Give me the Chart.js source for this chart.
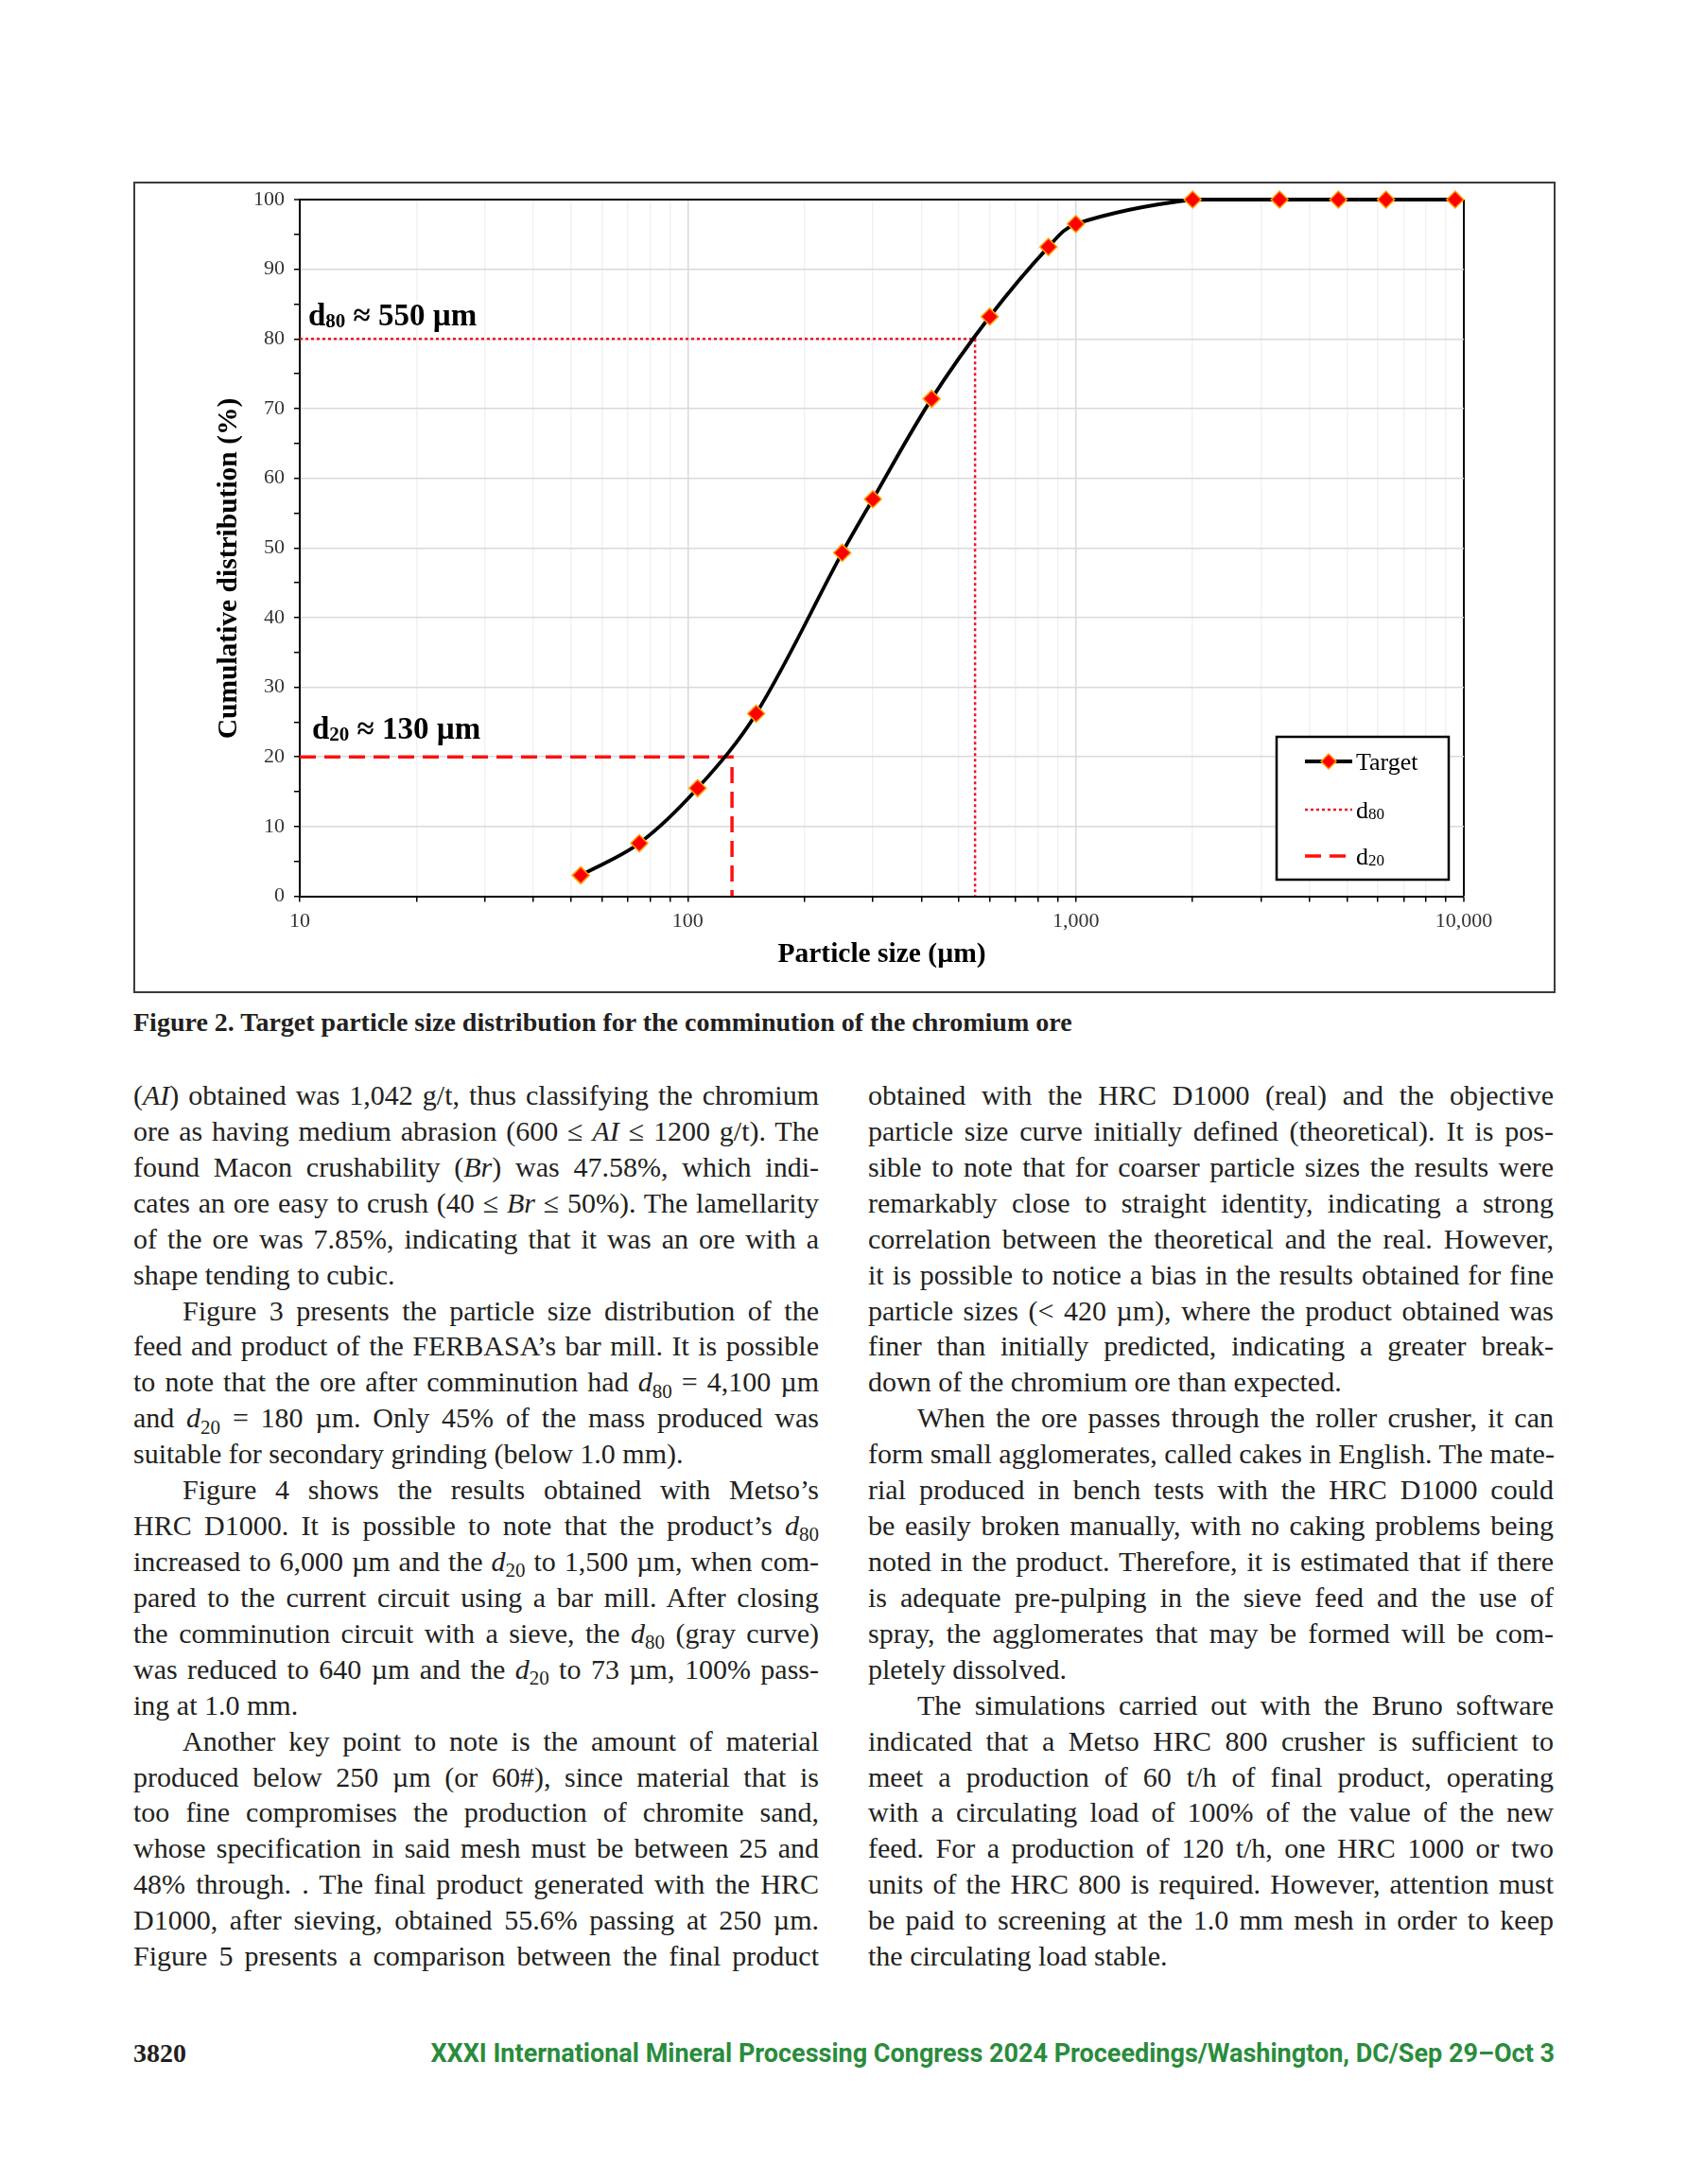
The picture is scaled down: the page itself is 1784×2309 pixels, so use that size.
<!DOCTYPE html>
<html>
<head>
<meta charset="utf-8">
<script src="https://cdn.jsdelivr.net/npm/chart.js@4.4.1/dist/chart.umd.min.js"></script>
<style>
html,body{margin:0;padding:0;background:#fff;}
body{width:1784px;height:2309px;position:relative;overflow:hidden;font-family:'Liberation Serif',serif;color:#231f20;}
#frame{position:absolute;left:141px;top:192px;width:1504px;height:858px;border:2px solid #3c3c3c;box-sizing:border-box;}
#grafico{position:absolute;left:0;top:0;}
.cap{position:absolute;left:141px;top:1066px;font:bold 28px/30px 'Liberation Serif',serif;white-space:nowrap;}
.col{position:absolute;top:1139px;width:725px;font-size:30px;line-height:37.93px;}
.col div{height:37.93px;white-space:nowrap;text-align:justify;text-align-last:justify;}
.col div.e{text-align-last:left;}
.col div.i{text-indent:52px;}
sub{font-size:0.7em;vertical-align:baseline;position:relative;top:0.3em;line-height:0;}
.pg{position:absolute;left:141px;top:2155px;font:bold 28px/32px 'Liberation Serif',serif;}
.foot{position:absolute;right:140px;top:2155px;font:bold 27px/32px Roboto,'Liberation Sans',sans-serif;color:#2a8c3c;white-space:nowrap;}
</style>
</head>
<body>

<div id="frame"><canvas id="grafico" width="1500" height="854"></canvas></div>

<div class="cap">Figure 2. Target particle size distribution for the comminution of the chromium ore</div>

<div class="col" style="left:141px">
<div>(<i>AI</i>) obtained was 1,042 g/t, thus classifying the chromium</div>
<div>ore as having medium abrasion (600 ≤ <i>AI</i> ≤ 1200 g/t). The</div>
<div>found Macon crushability (<i>Br</i>) was 47.58%, which indi-</div>
<div>cates an ore easy to crush (40 ≤ <i>Br</i> ≤ 50%). The lamellarity</div>
<div>of the ore was 7.85%, indicating that it was an ore with a</div>
<div class="e">shape tending to cubic.</div>
<div class="i">Figure 3 presents the particle size distribution of the</div>
<div>feed and product of the FERBASA’s bar mill. It is possible</div>
<div>to note that the ore after comminution had <i>d</i><sub>80</sub> = 4,100 µm</div>
<div>and <i>d</i><sub>20</sub> = 180 µm. Only 45% of the mass produced was</div>
<div class="e">suitable for secondary grinding (below 1.0 mm).</div>
<div class="i">Figure 4 shows the results obtained with Metso’s</div>
<div>HRC D1000. It is possible to note that the product’s <i>d</i><sub>80</sub></div>
<div>increased to 6,000 µm and the <i>d</i><sub>20</sub> to 1,500 µm, when com-</div>
<div>pared to the current circuit using a bar mill. After closing</div>
<div>the comminution circuit with a sieve, the <i>d</i><sub>80</sub> (gray curve)</div>
<div>was reduced to 640 µm and the <i>d</i><sub>20</sub> to 73 µm, 100% pass-</div>
<div class="e">ing at 1.0 mm.</div>
<div class="i">Another key point to note is the amount of material</div>
<div>produced below 250 µm (or 60#), since material that is</div>
<div>too fine compromises the production of chromite sand,</div>
<div>whose specification in said mesh must be between 25 and</div>
<div>48% through. . The final product generated with the HRC</div>
<div>D1000, after sieving, obtained 55.6% passing at 250 µm.</div>
<div>Figure 5 presents a comparison between the final product</div>
</div>

<div class="col" style="left:918px">
<div>obtained with the HRC D1000 (real) and the objective</div>
<div>particle size curve initially defined (theoretical). It is pos-</div>
<div>sible to note that for coarser particle sizes the results were</div>
<div>remarkably close to straight identity, indicating a strong</div>
<div>correlation between the theoretical and the real. However,</div>
<div>it is possible to notice a bias in the results obtained for fine</div>
<div>particle sizes (&lt; 420 µm), where the product obtained was</div>
<div>finer than initially predicted, indicating a greater break-</div>
<div class="e">down of the chromium ore than expected.</div>
<div class="i">When the ore passes through the roller crusher, it can</div>
<div>form small agglomerates, called cakes in English. The mate-</div>
<div>rial produced in bench tests with the HRC D1000 could</div>
<div>be easily broken manually, with no caking problems being</div>
<div>noted in the product. Therefore, it is estimated that if there</div>
<div>is adequate pre-pulping in the sieve feed and the use of</div>
<div>spray, the agglomerates that may be formed will be com-</div>
<div class="e">pletely dissolved.</div>
<div class="i">The simulations carried out with the Bruno software</div>
<div>indicated that a Metso HRC 800 crusher is sufficient to</div>
<div>meet a production of 60 t/h of final product, operating</div>
<div>with a circulating load of 100% of the value of the new</div>
<div>feed. For a production of 120 t/h, one HRC 1000 or two</div>
<div>units of the HRC 800 is required. However, attention must</div>
<div>be paid to screening at the 1.0 mm mesh in order to keep</div>
<div class="e">the circulating load stable.</div>
</div>

<div class="pg">3820</div>
<div class="foot">XXXI International Mineral Processing Congress 2024 Proceedings/Washington, DC/Sep 29–Oct 3</div>

<script>
// sieve sizes (µm) and cumulative passing (%)
const sizes = [53, 75, 106, 150, 250, 300, 425, 600, 850, 1000, 2000, 3350, 4750, 6300, 9500];
const passing = [3.0, 7.6, 15.5, 26.2, 49.3, 57.0, 71.4, 83.2, 93.2, 96.5, 100, 100, 100, 100, 100];
const d80 = 550, d20 = 130;
const seriesNames = ['Target', 'd80', 'd20'];
const xTickValues = [10, 100, 1000, 10000];
const xTickLabels = ['10', '100', '1,000', '10,000'];
const yTickValues = [0, 10, 20, 30, 40, 50, 60, 70, 80, 90, 100];
const xTitle = 'Particle size (µm)';
const yTitle = 'Cumulative distribution (%)';

// minor ticks: 1..9 per decade, every 5 %
let xMinor = [];
[10, 100, 1000].forEach(d => { for (let k = 1; k < 10; k++) xMinor.push(d * k); });
xMinor.push(10000);
let yMinor = [];
for (let v = 0; v <= 100; v += 5) yMinor.push(v);

const serif = '"Liberation Serif", serif';

function subText(c, x, y, base, sub, rest, size, weight){
  c.textAlign = 'left';
  c.font = weight + ' ' + size + 'px ' + serif;
  c.fillText(base, x, y); x += c.measureText(base).width;
  c.font = weight + ' ' + Math.round(size * 0.64) + 'px ' + serif;
  c.fillText(sub, x, y + size * 0.05); x += c.measureText(sub).width;
  c.font = weight + ' ' + size + 'px ' + serif;
  c.fillText(rest, x, y);
}

function drawName(c, x, y, name, size){
  let m = name.match(/^d(\d+)$/);
  if (m) subText(c, x, y, 'd', m[1], '', size, 'normal');
  else { c.font = size + 'px ' + serif; c.textAlign = 'left'; c.fillText(name, x, y); }
}

const extras = {
  id: 'extras',
  afterDraw(chart){
    let c = chart.ctx, a = chart.chartArea, ys = chart.scales.y;
    c.save();
    c.fillStyle = '#000';
    c.textBaseline = 'alphabetic';

    // axis titles
    c.font = 'bold 29.5px ' + serif;
    c.textAlign = 'center';
    c.fillText(xTitle, (a.left + a.right) / 2, 823);
    c.save();
    c.translate(107, 407);
    c.rotate(-Math.PI / 2);
    c.fillText(yTitle, 0, 0);
    c.restore();

    // d80 / d20 notes
    subText(c, a.left + 9, ys.getPixelForValue(80) - 14, 'd', '80', ' ≈ ' + d80 + ' µm', 33, 'bold');
    subText(c, a.left + 13, ys.getPixelForValue(20) - 19, 'd', '20', ' ≈ ' + d20 + ' µm', 33, 'bold');

    // legend box
    let bw = 182, bh = 151;
    let bx = a.right - 16 - bw, by = a.bottom - 17.5 - bh;
    c.fillStyle = '#fff';
    c.fillRect(bx, by, bw, bh);
    c.strokeStyle = '#000';
    c.lineWidth = 2.5;
    c.strokeRect(bx, by, bw, bh);
    let rows = [26, 77, 126];
    chart.data.datasets.forEach((ds, i) => {
      let y = by + rows[i];
      c.save();
      c.strokeStyle = ds.borderColor;
      c.lineWidth = ds.borderWidth;
      c.setLineDash(ds.borderDash || []);
      c.beginPath();
      c.moveTo(bx + 30, y);
      c.lineTo(bx + 80, y);
      c.stroke();
      c.restore();
      if (ds.pointRadius) {
        c.fillStyle = ds.pointBackgroundColor;
        c.strokeStyle = ds.pointBorderColor;
        c.lineWidth = ds.pointBorderWidth;
        Chart.helpers.drawPoint(c, {pointStyle: ds.pointStyle, radius: 8, borderWidth: ds.pointBorderWidth, rotation: 0}, bx + 55, y);
      }
      c.fillStyle = '#000';
      drawName(c, bx + 84, y + 9, ds.label, 26);
    });
    c.restore();
  }
};

let ctx = document.getElementById('grafico');
let chart = new Chart(ctx, {
  type: 'line',
  data: {
    datasets: [
      {
        label: seriesNames[0],
        data: sizes.map((s, i) => ({x: s, y: passing[i]})),
        borderColor: '#000', borderWidth: 3.8,
        tension: 0.35, clip: false,
        pointStyle: 'rectRot', pointRadius: 9,
        pointBackgroundColor: '#ff0000', pointBorderColor: '#ffa200', pointBorderWidth: 1.5
      },
      {
        label: seriesNames[1],
        data: [{x: 10, y: 80}, {x: d80, y: 80}, {x: d80, y: 0}],
        borderColor: '#f0142d', borderWidth: 2.5, borderDash: [3, 3],
        pointRadius: 0, tension: 0
      },
      {
        label: seriesNames[2],
        data: [{x: 10, y: 20}, {x: d20, y: 20}, {x: d20, y: 0}],
        borderColor: '#ff1010', borderWidth: 3.5, borderDash: [17, 9],
        pointRadius: 0, tension: 0
      }
    ]
  },
  options: {
    responsive: false,
    animation: false,
    layout: {padding: {left: 0, top: 17, right: 95, bottom: 0}},
    plugins: {legend: {display: false}, tooltip: {enabled: false}},
    scales: {
      x: {
        type: 'logarithmic', min: 10, max: 10000,
        afterBuildTicks: s => { s.ticks = xMinor.map(v => ({value: v})); },
        afterFit: s => { s.height = 100.5; },
        ticks: {
          autoSkip: false, maxRotation: 0, padding: 8, color: '#333',
          font: {family: 'Liberation Serif', size: 22},
          callback: v => { let i = xTickValues.indexOf(v); return i < 0 ? '' : xTickLabels[i]; }
        },
        grid: {
          color: c => c.tick.value === 10000 ? '#000' : (xTickValues.includes(c.tick.value) ? '#d9d9d9' : '#f1f1f1'),
          lineWidth: c => c.tick.value === 10000 ? 2 : 1.5,
          tickLength: 6, tickColor: '#000', tickWidth: 1.5
        },
        border: {color: '#000', width: 2}
      },
      y: {
        type: 'linear', min: 0, max: 100,
        afterBuildTicks: s => { s.ticks = yMinor.map(v => ({value: v})); },
        afterFit: s => { s.width = 174; s.paddingTop = 0; s.paddingBottom = 0; },
        ticks: {
          autoSkip: false, padding: 10, color: '#333',
          font: {family: 'Liberation Serif', size: 22},
          callback: v => yTickValues.includes(v) ? String(v) : ''
        },
        grid: {
          color: c => c.tick.value === 100 ? '#000' : (yTickValues.includes(c.tick.value) ? '#d9d9d9' : 'rgba(0,0,0,0)'),
          lineWidth: c => c.tick.value === 100 ? 2 : 1.5,
          tickLength: 6, tickColor: '#000', tickWidth: 1.5
        },
        border: {color: '#000', width: 2}
      }
    }
  },
  plugins: [extras]
});
</script>
</body>
</html>
